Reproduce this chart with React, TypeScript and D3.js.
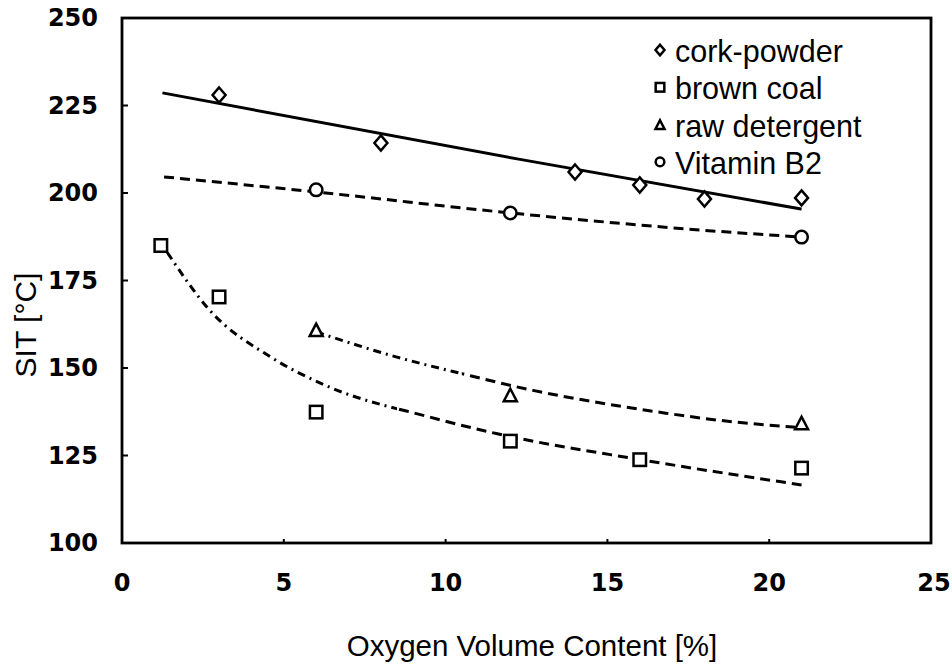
import React from "react";
import * as d3 from "d3";

// Measured self-ignition temperatures (SIT) against oxygen volume content
const corkX = [3, 8, 14, 16, 18, 21];
const corkY = [228, 214.3, 206, 202.3, 198.3, 198.6];
const coalX = [1.2, 3, 6, 12, 16, 21];
const coalY = [185, 170.3, 137.4, 129.1, 123.8, 121.4];
const detergentX = [6, 12, 21];
const detergentY = [160.9, 142.3, 134.3];
const vitaminX = [6, 12, 21];
const vitaminY = [200.9, 194.3, 187.4];

// Fitted trend curves (nodes along each fit)
const corkFit: [number, number][] = [[1.25, 228.6], [12.3, 209.6], [21, 195.4]];
const vitaminFit: [number, number][] = [[1.3, 204.6], [6, 200.3], [12, 194.3], [17.9, 189.4], [21, 187.4]];
const coalFit: [number, number][] = [[1.4, 183], [2.7, 166.6], [4.6, 153.1], [6.4, 144.6], [9.5, 136.0], [11.6, 131.2], [16.1, 123.7], [21, 116.6]];
const detergentFit: [number, number][] = [[6, 160.3], [8.5, 153.1], [10.5, 148.4], [12.7, 143.6], [14.8, 140], [16.8, 137.1], [18.9, 134.6], [20.8, 133.1]];

// x position where each fit switches from dash-dot to dashed
const coalBreak = 8.5;
const detergentBreak = 10.5;

const xTicks = [0, 5, 10, 15, 20, 25];
const yTicks = [100, 125, 150, 175, 200, 225, 250];
const legendLabels = ["cork-powder", "brown coal", "raw detergent", "Vitamin B2"];

const W = 952;
const H = 666;
const left = 122;
const right = 931;
const top = 18;
const bottom = 543;

const x = d3.scaleLinear().domain([0, 25]).range([left, right]);
const y = d3.scaleLinear().domain([100, 250]).range([bottom, top]);

type Shape = "diamond" | "square" | "triangle" | "circle";

function Marker({ shape, cx, cy, s }: { shape: Shape; cx: number; cy: number; s: number }) {
  const common = { fill: "white", stroke: "black", strokeWidth: 2.5 };
  if (shape === "diamond") {
    const w = s * 0.5;
    const h = s * 0.58;
    return <path d={`M${cx},${cy - h}L${cx + w},${cy}L${cx},${cy + h}L${cx - w},${cy}Z`} {...common} />;
  }
  if (shape === "square") {
    const h = s * 0.48;
    return <rect x={cx - h} y={cy - h} width={2 * h} height={2 * h} {...common} />;
  }
  if (shape === "triangle") {
    const w = s * 0.5;
    const h = s * 0.48;
    return <path d={`M${cx},${cy - h}L${cx + w},${cy + h}L${cx - w},${cy + h}Z`} {...common} />;
  }
  return <circle cx={cx} cy={cy} r={s * 0.48} {...common} />;
}

const line = d3
  .line<[number, number]>()
  .x((d) => x(d[0]))
  .y((d) => y(d[1]))
  .curve(d3.curveMonotoneX);

export default function App() {
  const font = "'Liberation Sans', Arial, sans-serif";
  const tickFont = "'DejaVu Sans', sans-serif";
  const coalPath = line(coalFit) || "";
  const detPath = line(detergentFit) || "";

  const series: { shape: Shape; xs: number[]; ys: number[] }[] = [
    { shape: "diamond", xs: corkX, ys: corkY },
    { shape: "square", xs: coalX, ys: coalY },
    { shape: "triangle", xs: detergentX, ys: detergentY },
    { shape: "circle", xs: vitaminX, ys: vitaminY },
  ];
  const legendShapes: Shape[] = ["diamond", "square", "triangle", "circle"];

  return (
    <svg width={W} height={H} style={{ position: "absolute", left: 0, top: 0, background: "white" }}>
      <defs>
        <clipPath id="coalLeft">
          <rect x={0} y={0} width={x(coalBreak)} height={H} />
        </clipPath>
        <clipPath id="coalRight">
          <rect x={x(coalBreak)} y={0} width={W} height={H} />
        </clipPath>
        <clipPath id="detLeft">
          <rect x={0} y={0} width={x(detergentBreak)} height={H} />
        </clipPath>
        <clipPath id="detRight">
          <rect x={x(detergentBreak)} y={0} width={W} height={H} />
        </clipPath>
      </defs>
      <rect x={0} y={0} width={W} height={H} fill="white" />

      {/* frame */}
      <rect x={left} y={top} width={right - left} height={bottom - top} fill="none" stroke="black" strokeWidth={2.8} />

      {/* y ticks */}
      {yTicks.map((t) => (
        <g key={"y" + t}>
          <line x1={left} x2={left + 6} y1={y(t)} y2={y(t)} stroke="black" strokeWidth={2} />
          <text
            x={98}
            y={y(t)}
            textAnchor="end"
            dominantBaseline="central"
            fontFamily={tickFont}
            fontWeight="bold"
            fontSize={24}
          >
            {t}
          </text>
        </g>
      ))}

      {/* x ticks */}
      {xTicks.map((t) => (
        <g key={"x" + t}>
          {t > 0 && t < 25 && (
            <line x1={x(t)} x2={x(t)} y1={bottom} y2={bottom - 4} stroke="black" strokeWidth={2} />
          )}
          <text
            x={x(t) + (t === 25 ? 3 : 0)}
            y={583}
            textAnchor="middle"
            dominantBaseline="central"
            fontFamily={tickFont}
            fontWeight="bold"
            fontSize={24}
          >
            {t}
          </text>
        </g>
      ))}

      {/* axis titles */}
      <text
        transform="translate(25,325) rotate(-90)"
        textAnchor="middle"
        dominantBaseline="central"
        fontFamily={font}
        fontSize={30}
      >
        SIT [°C]
      </text>
      <text x={532} y={645} textAnchor="middle" dominantBaseline="central" fontFamily={font} fontSize={29.5}>
        Oxygen Volume Content [%]
      </text>

      {/* trend curves */}
      <path d={line(corkFit) || ""} fill="none" stroke="black" strokeWidth={3} />
      <path d={line(vitaminFit) || ""} fill="none" stroke="black" strokeWidth={3} strokeDasharray="10,6" />
      <path d={coalPath} fill="none" stroke="black" strokeWidth={3} strokeDasharray="8,5,2,5" clipPath="url(#coalLeft)" />
      <path d={coalPath} fill="none" stroke="black" strokeWidth={3} strokeDasharray="10,6" clipPath="url(#coalRight)" />
      <path d={detPath} fill="none" stroke="black" strokeWidth={3} strokeDasharray="8,5,2,5" clipPath="url(#detLeft)" />
      <path d={detPath} fill="none" stroke="black" strokeWidth={3} strokeDasharray="10,6" clipPath="url(#detRight)" />

      {/* data points */}
      {series.map((s) =>
        s.xs.map((xv, i) => (
          <Marker key={s.shape + i} shape={s.shape} cx={x(xv)} cy={y(s.ys[i])} s={13} />
        ))
      )}

      {/* legend */}
      {legendLabels.map((lab, i) => {
        const base = 62 + i * 37.3;
        return (
          <g key={lab}>
            <Marker shape={legendShapes[i]} cx={660} cy={base - 12} s={9} />
            <text x={675} y={base} fontFamily={font} fontSize={30.5}>
              {lab}
            </text>
          </g>
        );
      })}
    </svg>
  );
}
